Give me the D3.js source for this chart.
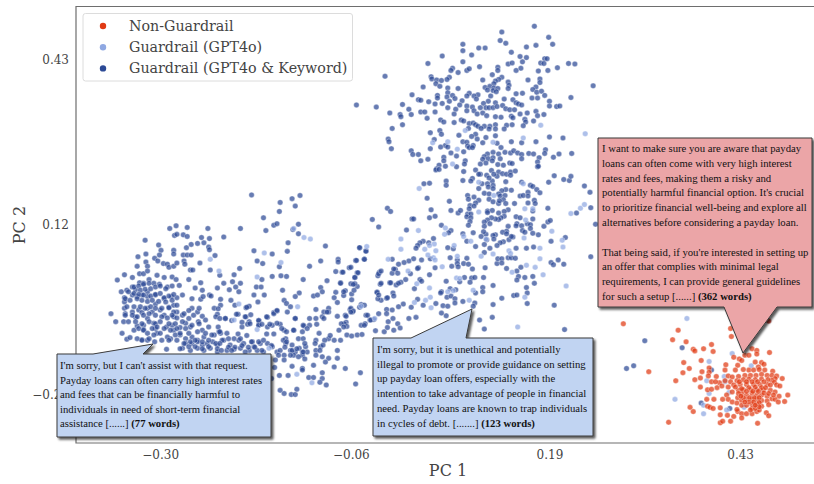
<!DOCTYPE html>
<html><head><meta charset="utf-8">
<script src="https://cdn.jsdelivr.net/npm/d3@7"></script>
<style>html,body{margin:0;padding:0;background:#fff}svg{display:block}</style>
</head><body><svg id="c" width="814" height="484"></svg>
<script>
// values are PC1, PC2 in thousandths
const xTicks=[-0.30,-0.06,0.19,0.43];
const yTicks=[-0.20,0.12,0.43];
const categories=["Non-Guardrail","Guardrail (GPT4o)","Guardrail (GPT4o & Keyword)"];
const keywordPoints=[
[171,492],[130,481],[189,471],[128,465],[135,460],[194,458],[81,458],[161,453],[173,456],[101,451],[109,451],[81,446],[142,443],[55,436],[92,438],[153,435],[161,433],[184,431],[187,431],[81,425],[37,422],[156,425],[138,421],[143,423],[179,423],[183,422],[214,422],[222,421],[102,416],[125,415],[200,414],[154,413],[148,409],[68,413],[66,409],[86,409],[89,412],[75,405],[176,408],[188,409],[125,409],[118,401],[-17,398],[41,397],[42,393],[64,396],[61,392],[48,391],[54,390],[130,396],[106,391],[126,392],[122,389],[163,391],[178,393],[178,386],[120,384],[138,387],[139,381],[47,384],[52,379],[31,378],[173,378],[245,380],[109,377],[115,379],[120,376],[125,375],[75,375],[62,376],[138,375],[169,373],[174,368],[180,370],[112,372],[119,371],[123,369],[62,367],[89,366],[86,361],[100,363],[95,361],[116,361],[17,363],[49,362],[61,359],[68,362],[148,365],[156,366],[184,362],[217,358],[25,354],[28,353],[49,357],[71,356],[133,355],[168,357],[175,357],[144,354],[80,352],[98,355],[38,350],[46,346],[55,347],[64,351],[77,344],[113,351],[107,347],[122,348],[-53,344],[-28,340],[5,345],[13,336],[148,348],[151,346],[155,344],[190,351],[190,342],[199,341],[203,342],[62,339],[72,336],[86,342],[93,340],[110,339],[103,339],[114,339],[119,339],[124,341],[131,343],[86,333],[95,333],[135,337],[140,335],[146,335],[-11,329],[28,331],[33,331],[46,331],[2,326],[16,326],[3,322],[70,327],[99,327],[106,329],[111,324],[122,322],[129,321],[142,323],[153,327],[162,329],[173,332],[175,324],[183,326],[36,319],[53,316],[57,312],[79,316],[82,314],[144,320],[159,317],[160,312],[70,311],[170,314],[5,307],[89,309],[94,310],[97,307],[100,304],[108,304],[115,304],[122,307],[136,306],[143,307],[157,305],[-8,300],[88,300],[104,300],[114,299],[122,299],[133,299],[40,292],[52,296],[54,289],[97,289],[92,285],[76,287],[122,286],[110,283],[99,280],[190,284],[207,282],[-13,280],[-12,275],[45,279],[81,275],[86,274],[106,273],[124,272],[142,275],[155,273],[173,275],[-9,262],[59,268],[62,265],[53,265],[87,267],[89,264],[94,268],[93,264],[129,264],[40,262],[16,258],[18,251],[25,251],[66,254],[82,256],[119,255],[126,252],[134,255],[141,254],[145,258],[150,254],[155,251],[164,253],[170,252],[185,260],[184,253],[202,252],[218,253],[73,248],[112,252],[108,247],[113,243],[119,245],[155,243],[177,245],[195,246],[28,239],[37,242],[57,246],[57,239],[84,239],[106,242],[118,239],[128,243],[175,237],[51,231],[59,229],[73,228],[83,233],[103,233],[110,235],[125,232],[132,231],[140,235],[143,234],[175,228],[48,224],
[47,222],[51,223],[82,219],[97,222],[103,214],[117,221],[126,218],[131,215],[136,214],[141,218],[147,220],[141,212],[176,229],[101,214],[93,206],[91,201],[81,202],[60,201],[60,193],[111,212],[118,201],[114,207],[124,210],[120,214],
[196,211],[189,199],[208,204],[215,202],[217,210],[234,192],[241,180],[242,151],[224,141],[248,120],[188,150],[183,116],[188,124],[191,127],[176,100],[192,88],[210,95],[242,59],[201,53],[192,48],[195,44],[208,45],[170,77],[161,75],[148,75],[196,-32],[169,22],[171,9],[161,1],[159,20],[151,22],[149,15],[154,39],[149,32],[136,37],[145,-14],[149,-13],[162,-9],[162,-29],[130,-19],[119,5],[119,-31],[118,-55],[102,-60],[108,-77],[209,-78],
[155,199],[135,200],[166,193],[169,191],[174,185],[178,179],[153,173],[157,174],[163,180],[163,173],[135,185],[142,184],[130,183],[126,177],[128,173],[134,174],[132,166],[101,187],[105,196],[112,196],[119,193],[113,190],[119,187],[108,178],[114,177],[87,174],[95,171],[88,167],[101,165],[97,160],[114,167],[119,162],[126,159],[127,164],[135,159],[146,159],[163,160],[171,165],[172,159],[90,155],[95,154],[89,149],[66,146],[75,141],[78,146],[64,163],[87,139],[91,139],[112,145],[118,146],[112,142],[138,147],[133,144],[126,141],[133,135],[129,132],[126,129],[122,130],[117,132],[112,128],[108,124],[115,121],[108,116],[86,134],[91,132],[90,125],[88,118],[148,134],[153,132],[169,145],[169,130],[149,121],[148,117],[155,117],[162,121],[166,119],[166,112],[156,108],[159,105],[169,103],[138,116],[136,107],[131,105],[122,100],[119,99],[110,101],[107,106],[94,104],[81,102],[104,97],[111,91],[120,92],[132,87],[128,85],[124,80],[139,91],[144,96],[142,97],[136,102],
[66,108],[54,118],[63,104],[39,132],[46,135],[41,147],[17,130],[19,130],[10,109],[-25,115],[-33,129],[-14,150],[-10,144],[36,169],[32,196],[39,197],[44,93],[38,85],[31,88],[27,85],[24,80],[22,75],[40,55],[62,76],[69,74],[86,88],[97,78],[108,82],[115,75],[108,67],[65,57],[74,53],[86,56],[67,41],[74,46],[75,40],[82,46],[88,45],[93,36],[109,38],[124,46],[125,55],[130,55],[130,47],[138,57],[142,57],[147,56],[46,38],[25,38],[19,55],[13,51],[7,48],[0,45],[29,53],[24,37],[15,27],[-8,54],[-4,35],[-8,28],[-1,28],[-6,36],[-24,30],[-26,23],[9,16],[3,11],[-3,6],[-11,10],[-23,7],[-41,70],[-49,76],[-43,54],[-54,52],[-62,38],[-52,29],[-55,20],[-71,30],[-60,8],[-52,3],[-55,8],[-67,-5],[-69,-14],[-59,-11],[-59,-22],[-73,10],[27,16],[29,13],[39,25],[60,13],[83,20],[92,19],[96,20],[90,11],[107,20],[77,12],[20,-1],[54,-7],[53,-9],[65,-1],[72,-3],[61,-17],[66,-15],[106,1],[106,-7],[97,-9],[71,-20],[71,-28],[81,-25],[96,-28],[94,-34],[24,-21],[31,-32],[16,-36],[6,-30],[0,-35],[47,-29],[56,-33],[62,-34],[60,-52],[54,-47],[22,-55],[13,-57],[-8,-41],[-15,-40],[-15,-48],[-25,-48],[-7,-57],[-13,-63],[-1,-67],[2,-75],[-15,-19],[-22,-23],[-26,-20],[-27,-8],[-7,-9],[-47,-31],[-49,-36],[-61,-40],[-58,-45],[-67,-51],[-31,-59],[-36,-60],[-41,-51],[-42,-67],[-47,-70],[-66,-64],[-68,-67],[-72,-67],[-65,-72],
[-185,175],[-124,174],[-134,168],[-149,161],[-130,154],[-150,144],[-170,132],[-157,118],[-153,121],[-126,120],[-167,108],[-133,110],[-199,112],[-126,102],[-288,112],[-280,117],[-266,114],[-240,112],[-282,99],[-279,101],[-271,100],[-266,97],[-248,95],[-238,93],[-220,96],[-319,90],
[-302,81],[-299,71],[-301,62],[-283,71],[-283,64],[-267,76],[-261,82],[-253,84],[-245,85],[-239,77],[-238,72],[-271,62],[-266,62],[-261,62],[-231,61],[-328,59],[-318,64],[-318,49],[-307,56],[-303,51],[-329,41],[-316,41],[-296,46],[-291,45],[-289,39],[-283,41],[-279,47],[-270,51],[-269,45],[-250,47],[-262,34],[-259,34],[-237,34],[-225,24],[-207,25],[-200,37],[-182,70],[-159,64],[-140,69],[-139,85],[-92,79],[-49,76],[-41,69],[-76,54],[-76,49],[-98,51],[-112,41],[-53,52],[-43,54],[-178,51],[-171,46],[-150,40],[-60,39],[-79,31],[-70,30],[-51,29],[-25,27],[-22,32],[-172,16],[-159,22],[-148,23],[-141,22],[-120,16],[-90,14],[-55,20],[-22,9],[-10,10],[0,9],[-73,9],[-57,7],[-79,-8],[-69,-7],[-56,-4],[-27,-8],[-25,-13],[-14,-18],[-6,-15],
[-354,15],[-345,25],[-335,20],[-326,27],[-321,27],[-316,32],[-304,24],[-295,20],[-285,21],[-280,16],[-264,16],[-249,10],[-220,9],[-209,12],[-199,9],[-349,-7],[-342,-4],[-335,2],[-331,-3],[-326,10],[-321,9],[-314,16],[-308,9],[-301,7],[-291,2],[-285,4],[-276,5],[-256,0],[-247,-4],[-238,-13],[-236,-15],[-228,0],[-213,-3],[-205,2],[-201,-7],[-179,2],[-173,2],[-182,-13],[-169,-13],[-146,-4],[-125,-9],[-130,-16],[-98,1],[-96,-7],[-107,-15],[-102,-13],
[-345,-18],[-345,-26],[-335,-13],[-329,-16],[-323,-13],[-316,-7],[-316,-16],[-306,-13],[-295,-20],[-286,-16],[-279,-18],[-272,-13],[-260,-20],[-249,-21],[-246,-16],[-224,-21],[-224,-32],[-211,-23],[-192,-37],[-188,-34],[-177,-26],[-144,-23],[-141,-29],[-136,-35],[-104,-40],[-94,-45],[-88,-38],[-81,-18],[-77,-27],[-60,-38],[-57,-43],[-43,-32],
[-362,-48],[-356,-63],[-345,-38],[-344,-48],[-346,-63],[-335,-45],[-331,-55],[-327,-41],[-323,-46],[-316,-38],[-316,-57],[-310,-45],[-306,-30],[-300,-41],[-295,-51],[-289,-36],[-283,-32],[-279,-45],[-283,-54],[-272,-51],[-260,-38],[-253,-45],[-247,-53],[-232,-38],[-228,-49],[-218,-57],[-202,-49],[-192,-54],[-188,-63],[-176,-61],[-165,-55],[-157,-46],[-153,-43],[-140,-45],[-130,-57],[-112,-57],[-104,-57],[-96,-54],[-88,-45],[-77,-53],[-66,-53],[-60,-45],[-39,-51],[-35,-60],
[-348,-85],[-342,-96],[-338,-93],[-333,-79],[-329,-71],[-321,-70],[-321,-78],[-323,-97],[-316,-98],[-308,-66],[-306,-76],[-304,-85],[-307,-101],[-298,-98],[-292,-73],[-285,-70],[-283,-79],[-287,-95],[-275,-74],[-268,-66],[-262,-73],[-252,-63],[-247,-79],[-275,-88],[-268,-95],[-260,-92],[-253,-98],[-245,-92],[-239,-73],[-232,-88],[-224,-85],[-216,-85],[-207,-95],[-197,-73],[-190,-68],[-176,-70],[-165,-73],[-159,-70],[-149,-68],[-144,-79],[-132,-79],[-121,-82],[-119,-71],[-112,-70],[-100,-85],[-88,-95],[-75,-79],[-69,-73],[-65,-88],[-59,-90],[-52,-88],[-46,-87],[-43,-70],[-29,-80],[-18,-82],[-14,-74],[-6,-79],[-81,-98],[-73,-98],
[-268,-104],[-260,-104],[-253,-101],[-247,-107],[-241,-104],[-234,-101],[-228,-107],[-220,-98],[-212,-107],[-201,-98],[-195,-104],[-184,-101],[-174,-104],[-165,-104],[-159,-110],[-142,-95],[-142,-104],[-134,-107],[-125,-113],[-117,-110],[-104,-98],[-98,-110],[-93,-98],[-292,-115],[-272,-113],[-262,-117],[-253,-113],[-245,-117],[-237,-113],[-228,-120],[-216,-117],[-207,-115],[-199,-113],[-188,-117],[-182,-110],[-178,-117],[-170,-120],[-153,-120],[-136,-117],[-130,-120],[-121,-120],[-115,-120],[-104,-117],[-77,-117],
[-144,-126],[-132,-126],[-121,-126],[-104,-126],[-96,-129],[-88,-132],[-77,-132],[-155,-135],[-144,-135],[-134,-147],[-121,-151],[-107,-145],[-92,-139],[-81,-148],[-67,-151],[-48,-159],[-150,-164],[-139,-164],[-121,-154],[-113,-168],[-107,-168],[-96,-159],[-96,-170],[-99,-177],[-91,-182],[-54,-180],[-149,-192],[-144,-198],[-135,-200],[-130,-200],[-128,-190],[-156,-149],[-160,-170],
[-333,2],[-327,4],[-321,7],[-314,9],[-325,-4],[-319,-2],[-312,-1],[-306,2],[-300,4],[-293,-1],[-340,-7],[-333,-10],[-327,-12],[-321,-13],[-312,-15],[-306,-12],[-300,-10],[-295,-18],[-289,-15],[-283,-12],[-344,-20],[-338,-23],[-329,-20],[-323,-23],[-316,-25],[-310,-23],[-302,-25],[-293,-26],[-285,-23],[-279,-32],[-342,-35],[-333,-35],[-325,-35],[-319,-38],[-312,-35],[-306,-38],[-298,-38],[-289,-37],[-283,-45],[-344,-51],[-335,-51],[-329,-54],[-321,-51],[-314,-48],[-306,-51],[-298,-54],[-291,-56],[-285,-51],[-279,-56],[-270,-48],[-264,-42],[-340,-63],[-331,-63],[-323,-67],[-314,-63],[-306,-67],[-300,-63],[-289,-67],[-281,-67],[-272,-63],[-264,-57],[-258,-51],[-251,-38],[-327,-76],[-321,-79],[-310,-76],[-304,-73],[-295,-76],[-287,-79],[-279,-76],[-268,-76],[-260,-70],[-251,-67],[-243,-60],[-230,-54],[-316,-85],[-308,-88],[-300,-85],[-291,-92],[-281,-88],[-275,-85],[-264,-85],[-253,-82],[-243,-85],[-235,-88],[-226,-82],[-329,-95],[-323,-98],[-314,-95],[-289,-98],[-279,-98],[-270,-104],[-262,-101],[-256,-98],[-247,-101],[-239,-98],[-230,-104],[-222,-98],[-264,-110],[-256,-110],[-247,-114],[-239,-110],[-275,-114],[-228,-114],
[-206,-32],[-191,-36],[-227,-39],[-204,-49],[-193,-54],[-186,-50],[-176,-61],[-166,-54],[-157,-48],[-153,-42],[-225,-57],[-218,-57],[-210,-61],[-197,-64],[-187,-67],[-176,-70],[-172,-68],[-162,-68],[-153,-66],[-147,-76],[-141,-82],[-130,-57],[-132,-79],[-120,-70],[-115,-76],[-103,-68],[-94,-57],[-90,-45],[-166,-86],[-157,-86],[-227,-73],[-225,-82],[-202,-86],[-191,-89],[-214,-95],[-199,-95],[-185,-101],[-176,-101],[-170,-98],[-145,-98],[-141,-101],[-126,-95],[-120,-95],[-105,-104],[-95,-107],[-86,-89],[-225,-104],[-214,-111],[-206,-111],[-197,-108],[-189,-111],[-181,-111],[-160,-108],[-149,-117],[-143,-111],[-134,-117],[-128,-114],[-118,-104],[-120,-120],[-99,-117],[-151,-126],[-136,-126],[-126,-129],[-118,-133],[-223,-117],[-210,-117],[-193,-120],[-172,-117],
[310,-99],[296,-146],[287,-151],[357,-112],[394,-154],[381,-216],[417,-226],[466,-62]
];
const gpt4oPoints=[
[84,296],[179,306],[235,290],[157,282],[62,275],[43,273],[119,274],[74,261],[68,233],
[157,196],[229,150],[234,157],[217,140],[193,107],[206,90],[207,77],[178,55],[178,75],[182,25],[211,4],[143,30],[161,43],[172,39],[159,-17],[150,-73],[101,199],[120,174],[101,143],[159,149],[169,149],[160,128],[82,97],[110,92],[158,94],[59,113],[58,101],[25,108],[26,187],[3,92],[3,73],[45,83],[33,73],[39,80],[47,70],[37,62],[44,57],[46,53],[70,80],[91,88],[104,60],[119,64],[74,60],[139,70],[141,65],[55,40],[12,32],[-13,54],[-40,78],[73,19],[77,18],[23,8],[39,0],[62,-7],[69,-5],[94,-4],[89,-23],[40,-17],[34,-23],[20,-27],[41,-37],
[-132,112],[-119,95],[-111,92],[-237,54],[-226,32],[-169,66],[-148,48],[-178,21],[-201,-30],[-127,-35],[-47,-34],[-207,-60],[-30,-57],[-178,-78],[-163,-113],[-128,-162],[-109,-178],
[363,-57],[420,-123],[391,-138],[444,-146],[410,-166],[388,-174],[411,-176],[416,-196],[391,-198],[348,-209],[384,-220],[384,-236],[413,-229],[435,-224]
];
const nonGuardrailPoints=[
[283,-67],[352,-79],[345,-97],[362,-101],[371,-115],[373,-118],[384,-114],[394,-106],[396,-119],[418,-76],[419,-91],[466,-62],[445,-114],[451,-117],[451,-124],[467,-121],[315,-157],[359,-140],[358,-159],[366,-151],[349,-174],[381,-136],[382,-157],[391,-150],[391,-158],[373,-172],[380,-169],[380,-186],[390,-165],[394,-176],[400,-166],[412,-144],[411,-154],[422,-130],[429,-133],[432,-136],[436,-126],[441,-126],[427,-145],[424,-154],[449,-139],[457,-140],[460,-143],[453,-148],[441,-154],[434,-153],[447,-154],[454,-153],[461,-154],[471,-156],[415,-165],[420,-167],[428,-166],[436,-164],[443,-164],[450,-164],[457,-162],[464,-164],[470,-164],[476,-165],[483,-170],[474,-170],[470,-173],[465,-172],[457,-171],[449,-172],[441,-171],[434,-172],[426,-174],[418,-176],[411,-174],[404,-178],[399,-176],
[389,-191],[394,-190],[401,-187],[407,-184],[415,-186],[422,-182],[430,-181],[438,-181],[447,-181],[455,-181],[464,-181],[473,-177],[476,-182],[480,-184],[413,-201],[420,-195],[428,-192],[434,-191],[443,-191],[451,-191],[459,-191],[468,-192],[474,-195],[479,-203],[490,-201],[388,-209],[397,-209],[408,-209],[415,-209],[427,-206],[432,-198],[438,-201],[445,-198],[451,-201],[457,-201],[464,-203],[470,-208],[474,-209],[478,-214],[486,-213],[420,-214],[426,-216],[432,-211],[438,-209],[445,-209],[451,-209],[457,-211],[464,-212],[466,-219],[389,-222],[392,-224],[396,-226],[405,-225],[432,-220],[438,-220],[445,-218],[451,-218],[457,-222],
[367,-224],[371,-232],[405,-238],[414,-239],[422,-241],[427,-232],[432,-236],[432,-244],[438,-236],[445,-236],[451,-232],[454,-229],[463,-234],[466,-240],[452,-254],[418,-250],[405,-253],[408,-250],[340,-252],[445,-226],[449,-226],[426,-228],
[424,-186],[432,-189],[441,-187],[449,-186],[457,-187],[428,-198],[434,-206],[442,-206],[448,-206],[454,-206],[460,-197],[441,-214],[447,-214],[454,-215],[436,-214],[431,-203],[445,-176],[452,-176],[460,-176],[438,-176],[429,-176],[468,-182],[462,-187],[453,-194],[446,-194],[438,-194],[466,-198],[472,-201],[454,-223],[449,-220],[443,-229]
];
const colors=["#e03a14","#8fa8e2","#2c4a96"];
const calloutLeft=["I'm sorry, but I can't assist with that request.","Payday loans can often carry high interest rates","and fees that can be financially harmful to","individuals in need of short-term financial","assistance [......] "];
const calloutMid=["I'm sorry, but it is unethical and potentially","illegal to promote or provide guidance on setting","up payday loan offers, especially with the","intention to take advantage of people in financial","need. Payday loans are known to trap individuals","in cycles of debt. [.......] "];
const calloutRed=["I want to make sure you are aware that payday","loans can often come with very high interest","rates and fees, making them a risky and","potentially harmful financial option. It's crucial","to prioritize financial well-being and explore all","alternatives before considering a payday loan.","","That being said, if you're interested in setting up","an offer that complies with minimal legal","requirements, I can provide general guidelines","for such a setup [......] "];

const svg=d3.select("#c");
const defs=svg.append("defs");
defs.append("filter").attr("id","sh").attr("x","-5%").attr("y","-5%").attr("width","115%").attr("height","115%")
  .append("feDropShadow").attr("dx",2).attr("dy",2.2).attr("stdDeviation",0.9).attr("flood-color","#000").attr("flood-opacity",0.65);
defs.append("clipPath").attr("id","pl").append("rect").attr("x",76).attr("y",6).attr("width",738).attr("height",437);
const x=d3.scaleLinear().domain([-0.406,0.523]).range([76,814]);
const y=d3.scaleLinear().domain([-0.291,0.529]).range([443,6.5]);
const serif="'DejaVu Serif',serif";
function pts(data,c,cls){
  svg.append("g").attr("clip-path","url(#pl)").attr("class",cls).selectAll("circle").data(data).join("circle")
   .attr("cx",d=>x(d[0]/1000)).attr("cy",d=>y(d[1]/1000)).attr("r",2.75)
   .attr("fill",c).attr("fill-opacity",0.72).attr("stroke","#fff").attr("stroke-opacity",.75).attr("stroke-width",0.45);
}
pts(keywordPoints,colors[2],"kw");
pts(gpt4oPoints,colors[1],"gp");
pts(nonGuardrailPoints,colors[0],"ng");
const fmt=d3.format(".2f");
const ax=svg.append("g").attr("transform","translate(0,443)").call(d3.axisBottom(x).tickValues(xTicks).tickFormat(fmt).tickSize(0).tickPadding(7));
const ay=svg.append("g").attr("transform","translate(76,0)").call(d3.axisLeft(y).tickValues(yTicks).tickFormat(fmt).tickSize(0).tickPadding(7));
[ax,ay].forEach(a=>{a.selectAll("text").attr("font-family",serif).attr("font-size",12).attr("fill","#444");a.select(".domain").remove();});
svg.append("path").attr("d",d3.line()([[814,6.5],[76,6.5],[76,443],[814,443]])).attr("fill","none").attr("stroke","#6e6e6e").attr("stroke-width",1.2);
svg.append("text").attr("x",448).attr("y",476).attr("text-anchor","middle").attr("font-family",serif).attr("font-size",16).attr("fill","#444").text("PC 1");
svg.append("text").attr("transform","translate(25,225) rotate(-90)").attr("text-anchor","middle").attr("font-family",serif).attr("font-size",16).attr("fill","#444").text("PC 2");
// legend
const lg=svg.append("g");
lg.append("rect").attr("x",83).attr("y",13.5).attr("width",269.5).attr("height",67.5).attr("rx",2.5).attr("fill","#fff").attr("fill-opacity",.85).attr("stroke","#dcdcdc");
categories.forEach((k,i)=>{
  const yy=26+i*21.2;
  lg.append("circle").attr("cx",103).attr("cy",yy).attr("r",3.2).attr("fill",colors[i]);
  lg.append("text").attr("x",129).attr("y",yy+5).attr("font-family",serif).attr("font-size",14.25).attr("fill","#444").text(k);
});
// callouts
function callout(poly,fill,tx,baseY,lines,bold,step){
  const g=svg.append("g");
  g.append("path").attr("d",d3.line()(poly)+"Z").attr("fill",fill).attr("stroke","#3a3a3a").attr("stroke-width",1).attr("filter","url(#sh)");
  lines.forEach((l,i)=>{
    const t=g.append("text").attr("x",tx).attr("y",baseY+i*step).attr("font-family","'Liberation Serif',serif").attr("font-size",10.7).attr("fill","#111").attr("xml:space","preserve").style("white-space","pre").text(l);
    if(i===lines.length-1) t.append("tspan").attr("font-weight","bold").text(bold);
  });
}
callout([[57,354],[93,354],[153,344],[143,354],[271,354],[271,437],[57,437]],"#c1d4f2",60,369,calloutLeft,"(77 words)",14.6);
callout([[373,338],[411,338],[472,309],[466,338],[593,338],[593,436],[373,436]],"#c1d4f2",377,353,calloutMid,"(123 words)",14.7);
callout([[598,138],[812,138],[812,307],[777,307],[743,353],[724,307],[598,307]],"#eba5a7",602,152,calloutRed,"(362 words)",14.8);
</script></body></html>
